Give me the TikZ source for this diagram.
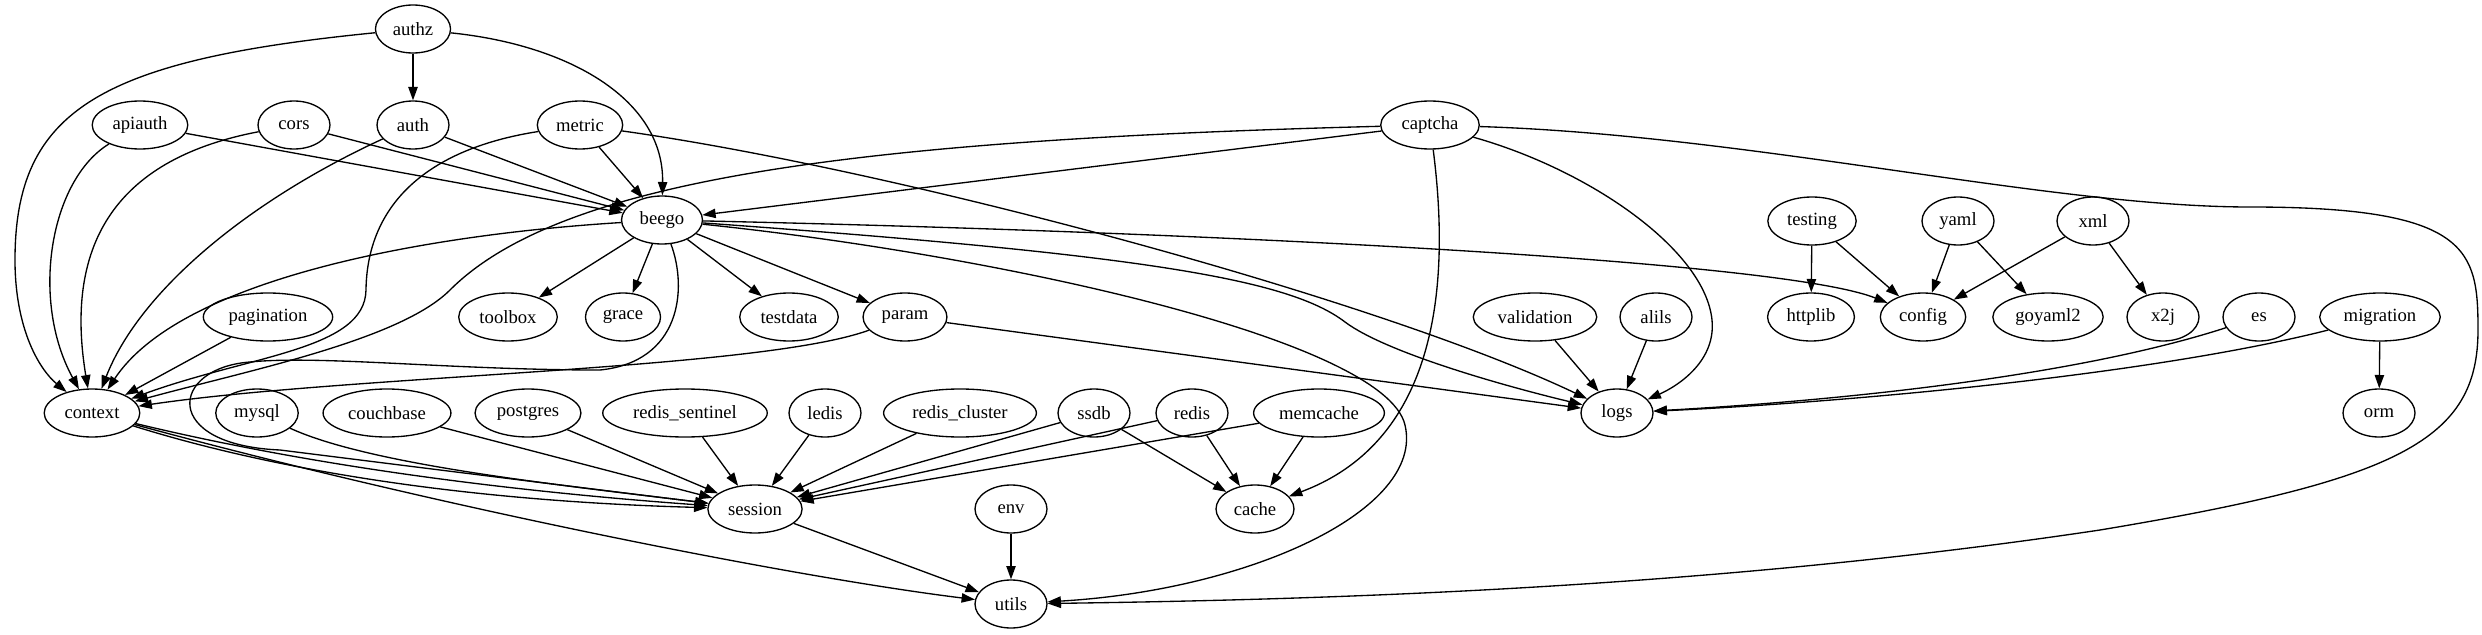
\documentclass[tikz,border=0pt]{standalone}
\usepackage{fontspec}
\setmainfont{Liberation Serif}
\usetikzlibrary{arrows.meta,shapes.geometric}

\begin{document}
\begin{tikzpicture}[
  x=0.75pt, y=-0.75pt,
  >={Triangle[length=10pt,width=7pt]},
  pk/.style={draw, ellipse, line width=1pt, minimum width=54pt, minimum height=36pt,
             inner xsep=4.75pt, inner ysep=2pt, font=\fontsize{14}{16}\selectfont},
  dep/.style={->, line width=1pt}]

  \useasboundingbox (0,0) rectangle (2482,635);

  % row 1
  \node[pk] (authz) at (413,29) {authz};
  % row 2
  \node[pk] (apiauth) at (140,125) {apiauth};
  \node[pk] (cors) at (294,125) {cors};
  \node[pk] (auth) at (413,125) {auth};
  \node[pk] (metric) at (580,125) {metric};
  \node[pk] (captcha) at (1430,125) {captcha};
  % row 3
  \node[pk] (beego) at (662,220) {beego};
  \node[pk] (testing) at (1812,221) {testing};
  \node[pk] (yaml) at (1958,221) {yaml};
  \node[pk] (xml) at (2093,221) {xml};
  % row 4
  \node[pk] (pagination) at (268,317) {pagination};
  \node[pk] (toolbox) at (508,317) {toolbox};
  \node[pk] (grace) at (623,317) {grace};
  \node[pk] (testdata) at (789,317) {testdata};
  \node[pk] (param) at (905,317) {param};
  \node[pk] (validation) at (1535,317) {validation};
  \node[pk] (alils) at (1656,317) {alils};
  \node[pk] (httplib) at (1811,317) {httplib};
  \node[pk] (config) at (1923,317) {config};
  \node[pk] (goyaml) at (2048,317) {goyaml2};
  \node[pk] (xtoj) at (2163,317) {x2j};
  \node[pk] (es) at (2259,317) {es};
  \node[pk] (migration) at (2380,317) {migration};
  % row 5
  \node[pk] (context) at (92,413) {context};
  \node[pk] (mysql) at (257,413) {mysql};
  \node[pk] (couchbase) at (387,413) {couchbase};
  \node[pk] (postgres) at (528,413) {postgres};
  \node[pk] (rsent) at (685,413) {redis\_sentinel};
  \node[pk] (ledis) at (825,413) {ledis};
  \node[pk] (rclus) at (960,413) {redis\_cluster};
  \node[pk] (ssdb) at (1094,413) {ssdb};
  \node[pk] (redis) at (1192,413) {redis};
  \node[pk] (memcache) at (1319,413) {memcache};
  \node[pk] (logs) at (1617,413) {logs};
  \node[pk] (orm) at (2379,413) {orm};
  % row 6
  \node[pk] (session) at (755,509) {session};
  \node[pk] (env) at (1011,509) {env};
  \node[pk] (cache) at (1255,509) {cache};
  % row 7
  \node[pk] (utils) at (1011,604) {utils};

  % authz
  \draw[dep] (authz) -- (auth);
  \draw[dep] (authz) .. controls (100,60) and (15,110) .. (15,260)
    .. controls (15,330) and (40,370) .. (context);
  \draw[dep] (authz) .. controls (570,45) and (664,100) .. (beego);

  % top row into beego / context
  \draw[dep] (apiauth) -- (beego);
  \draw[dep] (apiauth) .. controls (50,180) and (30,300) .. (context);
  \draw[dep] (cors) -- (beego);
  \draw[dep] (cors) .. controls (110,160) and (65,250) .. (context);
  \draw[dep] (auth) -- (beego);
  \draw[dep] (auth) .. controls (250,200) and (140,290) .. (context);
  \draw[dep] (metric) -- (beego);
  \draw[dep] (metric) .. controls (420,150) and (367,210) .. (366,290)
    .. controls (365,350) and (250,355) .. (context);
  \draw[dep] (metric) .. controls (900,170) and (1380,300) .. (logs);

  % captcha
  \draw[dep] (captcha) -- (beego);
  \draw[dep] (captcha) .. controls (850,140) and (560,180) .. (450,290)
    .. controls (400,340) and (250,370) .. (context);
  \draw[dep] (captcha) .. controls (1450,280) and (1440,440) .. (cache);
  \draw[dep] (captcha) .. controls (1590,170) and (1705,250) .. (1712,320)
    .. controls (1716,360) and (1680,385) .. (logs);
  \draw[dep] (captcha) .. controls (1750,135) and (2050,207) .. (2250,207)
    .. controls (2470,207) and (2478,250) .. (2478,330)
    .. controls (2478,440) and (2400,480) .. (2100,530)
    .. controls (1700,590) and (1300,600) .. (utils);

  % beego
  \draw[dep] (beego) -- (toolbox);
  \draw[dep] (beego) -- (grace);
  \draw[dep] (beego) -- (testdata);
  \draw[dep] (beego) -- (param);
  \draw[dep] (beego) .. controls (420,235) and (180,280) .. (context);
  \draw[dep] (beego) .. controls (688,290) and (680,362) .. (600,370)
    .. controls (450,370) and (320,355) .. (250,362)
    .. controls (170,368) and (160,445) .. (280,450)
    .. controls (400,465) and (600,490) .. (session);
  \draw[dep] (beego) .. controls (1200,232) and (1780,260) .. (config);
  \draw[dep] (beego) .. controls (1150,255) and (1290,280) .. (1345,322)
    .. controls (1385,352) and (1500,385) .. (logs);
  \draw[dep] (beego) .. controls (1000,255) and (1385,340) .. (1405,425)
    .. controls (1425,510) and (1250,590) .. (utils);

  % row 4
  \draw[dep] (pagination) -- (context);
  \draw[dep] (param) .. controls (760,370) and (350,375) .. (context);
  \draw[dep] (param) -- (logs);
  \draw[dep] (validation) -- (logs);
  \draw[dep] (alils) -- (logs);
  \draw[dep] (testing) -- (httplib);
  \draw[dep] (testing) -- (config);
  \draw[dep] (yaml) -- (config);
  \draw[dep] (yaml) -- (goyaml);
  \draw[dep] (xml) -- (config);
  \draw[dep] (xml) -- (xtoj);
  \draw[dep] (es) .. controls (2080,375) and (1850,400) .. (logs);
  \draw[dep] (migration) .. controls (2150,375) and (1850,402) .. (logs);
  \draw[dep] (migration) -- (orm);

  % session backends
  \draw[dep] (context) .. controls (320,468) and (520,492) .. (session);
  \draw[dep] (context) .. controls (300,478) and (500,502) .. (session);
  \draw[dep] (context) .. controls (450,510) and (800,578) .. (utils);
  \draw[dep] (mysql) .. controls (370,465) and (560,485) .. (session);
  \draw[dep] (couchbase) -- (session);
  \draw[dep] (postgres) -- (session);
  \draw[dep] (rsent) -- (session);
  \draw[dep] (ledis) -- (session);
  \draw[dep] (rclus) -- (session);
  \draw[dep] (ssdb) -- (session);
  \draw[dep] (redis) -- (session);
  \draw[dep] (memcache) -- (session);
  \draw[dep] (ssdb) -- (cache);
  \draw[dep] (redis) -- (cache);
  \draw[dep] (memcache) -- (cache);

  % utils
  \draw[dep] (session) -- (utils);
  \draw[dep] (env) -- (utils);
\end{tikzpicture}
\end{document}
